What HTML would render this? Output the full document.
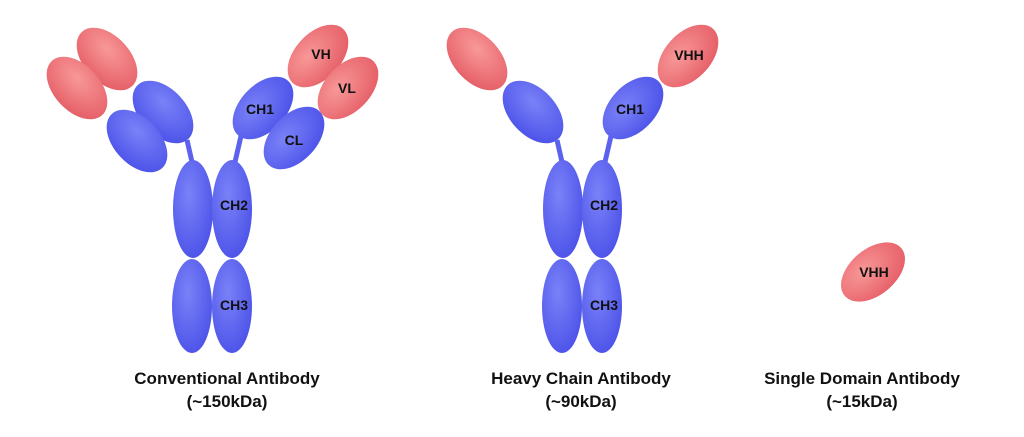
<!DOCTYPE html>
<html><head><meta charset="utf-8"><style>
html,body{margin:0;padding:0;background:#fff;}
svg{display:block;}
text{font-family:"Liberation Sans",sans-serif;font-weight:bold;fill:#111;}
</style></head><body>
<svg width="1024" height="437" viewBox="0 0 1024 437" xmlns="http://www.w3.org/2000/svg">
<defs>
<radialGradient id="b" cx="0.4" cy="0.35" r="0.7">
<stop offset="0" stop-color="#7a82f8"/><stop offset="1" stop-color="#4c52e8"/></radialGradient>
<radialGradient id="r" cx="0.4" cy="0.35" r="0.7">
<stop offset="0" stop-color="#f89898"/><stop offset="1" stop-color="#e55e66"/></radialGradient>
</defs>
<g id="conv">
<line x1="187" y1="140" x2="192" y2="162" stroke="#5c62ee" stroke-width="5"/>
<line x1="241" y1="136" x2="235" y2="162" stroke="#5c62ee" stroke-width="5"/>
<ellipse cx="193" cy="209" rx="20" ry="49" fill="url(#b)"/>
<ellipse cx="232" cy="209" rx="20" ry="49" fill="url(#b)"/>
<ellipse cx="192" cy="306" rx="20" ry="47" fill="url(#b)"/>
<ellipse cx="232" cy="306" rx="20" ry="47" fill="url(#b)"/>
<ellipse cx="107" cy="59" rx="37" ry="23" transform="rotate(47 107 59)" fill="url(#r)"/>
<ellipse cx="77" cy="88" rx="37" ry="23" transform="rotate(47 77 88)" fill="url(#r)"/>
<ellipse cx="163" cy="112" rx="37" ry="23" transform="rotate(47 163 112)" fill="url(#b)"/>
<ellipse cx="137" cy="141" rx="37" ry="23" transform="rotate(47 137 141)" fill="url(#b)"/>
<ellipse cx="318" cy="56" rx="37" ry="23" transform="rotate(-47 318 56)" fill="url(#r)"/>
<ellipse cx="348" cy="88" rx="37" ry="23" transform="rotate(-47 348 88)" fill="url(#r)"/>
<ellipse cx="263" cy="108" rx="37" ry="23" transform="rotate(-47 263 108)" fill="url(#b)"/>
<ellipse cx="294" cy="138" rx="37" ry="23" transform="rotate(-47 294 138)" fill="url(#b)"/>
<text x="260" y="114" font-size="14" text-anchor="middle">CH1</text>
<text x="294" y="145" font-size="14" text-anchor="middle">CL</text>
<text x="321" y="59" font-size="14" text-anchor="middle">VH</text>
<text x="347" y="93" font-size="14" text-anchor="middle">VL</text>
<text x="234" y="210" font-size="14" text-anchor="middle">CH2</text>
<text x="234" y="310" font-size="14" text-anchor="middle">CH3</text>
</g>
<g transform="translate(370,0)">
<line x1="187" y1="140" x2="192" y2="162" stroke="#5c62ee" stroke-width="5"/>
<line x1="241" y1="136" x2="235" y2="162" stroke="#5c62ee" stroke-width="5"/>
<ellipse cx="193" cy="209" rx="20" ry="49" fill="url(#b)"/>
<ellipse cx="232" cy="209" rx="20" ry="49" fill="url(#b)"/>
<ellipse cx="192" cy="306" rx="20" ry="47" fill="url(#b)"/>
<ellipse cx="232" cy="306" rx="20" ry="47" fill="url(#b)"/>
<ellipse cx="107" cy="59" rx="37" ry="23" transform="rotate(47 107 59)" fill="url(#r)"/>
<ellipse cx="163" cy="112" rx="37" ry="23" transform="rotate(47 163 112)" fill="url(#b)"/>
<ellipse cx="318" cy="56" rx="37" ry="23" transform="rotate(-47 318 56)" fill="url(#r)"/>
<ellipse cx="263" cy="108" rx="37" ry="23" transform="rotate(-47 263 108)" fill="url(#b)"/>
<text x="260" y="114" font-size="14" text-anchor="middle">CH1</text>
<text x="319" y="60" font-size="14" text-anchor="middle">VHH</text>
<text x="234" y="210" font-size="14" text-anchor="middle">CH2</text>
<text x="234" y="310" font-size="14" text-anchor="middle">CH3</text>
</g>
<ellipse cx="873" cy="272" rx="37" ry="23" transform="rotate(-40 873 272)" fill="url(#r)"/>
<text x="874" y="277" font-size="14" text-anchor="middle">VHH</text>
<g font-size="17" text-anchor="middle">
<text x="227" y="384">Conventional Antibody</text>
<text x="227" y="407">(~150kDa)</text>
<text x="581" y="384">Heavy Chain Antibody</text>
<text x="581" y="407">(~90kDa)</text>
<text x="862" y="384">Single Domain Antibody</text>
<text x="862" y="407">(~15kDa)</text>
</g>
</svg>
</body></html>
